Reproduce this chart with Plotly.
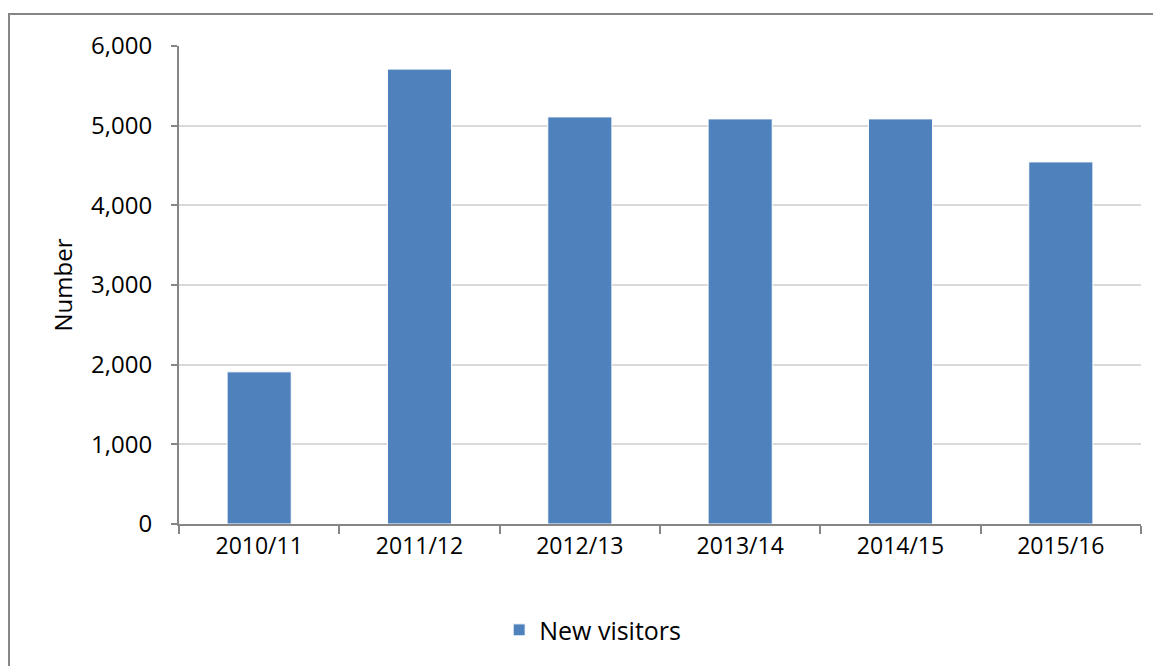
import plotly.graph_objects as go

years = ["2010/11", "2011/12", "2012/13", "2013/14", "2014/15", "2015/16"]
new_visitors = [1910, 5710, 5110, 5085, 5085, 4545]
y_ticks = [0, 1000, 2000, 3000, 4000, 5000, 6000]
y_tick_text = ["0", "1,000", "2,000", "3,000", "4,000", "5,000", "6,000"]

font_family = "Open Sans, Liberation Sans, sans-serif"

fig = go.Figure()
fig.add_trace(go.Bar(
    x=years,
    y=new_visitors,
    name="New visitors",
    marker=dict(color="#4F81BD", line=dict(color="#FFFFFF", width=1)),
    showlegend=True,
))

# page body adds an 8px offset, so margins are trimmed to compensate
fig.update_layout(
    width=1161,
    height=666,
    margin=dict(l=171, r=28, t=38, b=150),
    paper_bgcolor="white",
    plot_bgcolor="white",
    bargap=0.6,
    font=dict(family=font_family, color="#000000"),
    showlegend=True,
    legend=dict(
        orientation="h",
        x=0.43, xanchor="center",
        y=-0.222, yanchor="middle",
        font=dict(size=25),
        itemwidth=30,
    ),
    xaxis=dict(
        showline=True,
        linecolor="#868686",
        linewidth=2,
        ticks="outside",
        tickson="boundaries",
        ticklen=8,
        tickcolor="#868686",
        tickwidth=2,
        tickfont=dict(size=23),
        showgrid=False,
    ),
    yaxis=dict(
        range=[0, 6000],
        tickvals=y_ticks,
        ticktext=y_tick_text,
        showline=True,
        linecolor="#868686",
        linewidth=2,
        ticks="outside",
        ticklen=6,
        tickcolor="#868686",
        tickwidth=2,
        tickfont=dict(size=24),
        ticklabelstandoff=14,
        showgrid=True,
        gridcolor="#D9D9D9",
        gridwidth=2,
        zeroline=False,
        title=dict(text="Number", font=dict(size=24), standoff=12),
    ),
)

# outer chart border, cropped on the right and bottom like the original
fig.add_shape(
    type="rect", xref="paper", yref="paper",
    x0=-0.1767, x1=1.05, y0=-0.4, y1=1.067,
    line=dict(color="#868686", width=2),
    layer="below",
)

fig.write_html("out.html")
